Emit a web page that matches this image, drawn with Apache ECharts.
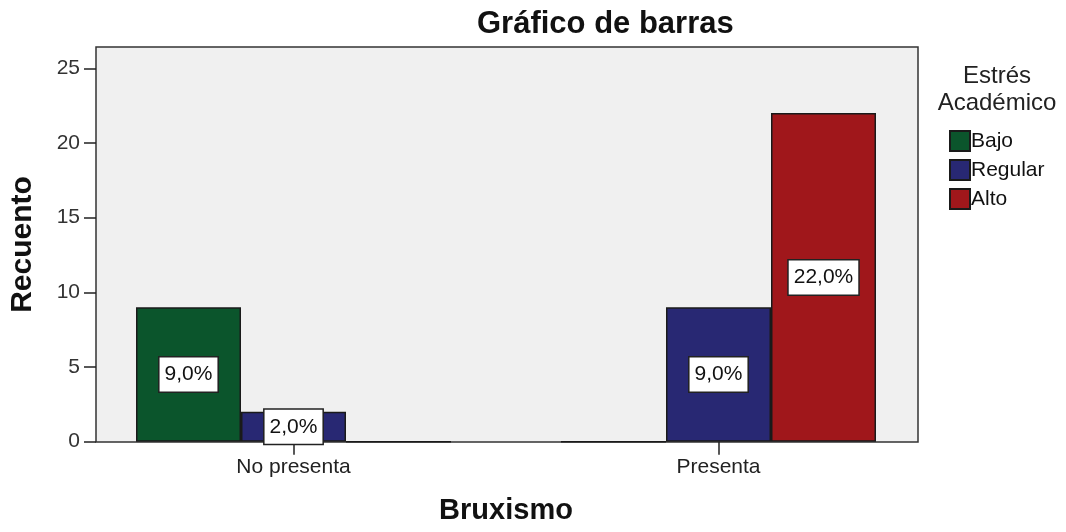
<!DOCTYPE html>
<html>
<head>
<meta charset="utf-8">
<script src="https://cdn.jsdelivr.net/npm/echarts@6/dist/echarts.min.js"></script>
<style>
  html, body { margin: 0; padding: 0; background: #fff; }
  #chart { width: 1066px; height: 532px; }
</style>
</head>
<body>
<div id="chart"></div>
<script>
// datos
var categorias = ['No presenta', 'Presenta'];
var niveles = ['Bajo', 'Regular', 'Alto'];
var bajo = [9, 0];
var regular = [2, 9];
var alto = [0, 22];
var pctBajo = [9.0, 0];
var pctRegular = [2.0, 9.0];
var pctAlto = [0, 22.0];
var yTicks = [0, 5, 10, 15, 20, 25];

var colores = ['#0b552c', '#282873', '#a0171b'];
var fuente = 'Liberation Sans, Arial, sans-serif';

(function () {
    var chart = echarts.init(document.getElementById('chart'));

    function serie(nombre, valores, pct, color) {
        return {
            name: nombre,
            type: 'bar',
            xAxisIndex: 1,
            yAxisIndex: 1,
            barWidth: 105,
            barGap: '0%',
            itemStyle: { color: color, borderColor: '#1a1a1a', borderWidth: 1.5 },
            label: {
                show: true,
                position: 'inside',
                formatter: function (p) {
                    return pct[p.dataIndex].toFixed(1).replace('.', ',') + '%';
                },
                color: '#111',
                fontFamily: fuente,
                fontSize: 21,
                backgroundColor: '#fff',
                borderColor: '#222',
                borderWidth: 1.5,
                padding: [7, 5, 6, 5]
            },
            data: valores.map(function (v) {
                return { value: v, label: { show: v > 0 } };
            })
        };
    }

    var option = {
        backgroundColor: '#fff',
        animation: false,

        title: [
            {
                text: 'Gráfico de barras',
                left: 472,
                top: 4,
                textStyle: { fontSize: 31, fontWeight: 'bold', color: '#111', fontFamily: fuente }
            },
            {
                text: 'Estrés\nAcadémico',
                left: 992,
                top: 58,
                textAlign: 'center',
                textStyle: { fontSize: 24, fontWeight: 'normal', color: '#222', fontFamily: fuente, lineHeight: 27 }
            }
        ],

        legend: {
            orient: 'vertical',
            left: 944,
            top: 125,
            itemWidth: 20,
            itemHeight: 20,
            itemGap: 7,
            icon: 'rect',
            data: niveles,
            textStyle: { fontSize: 21, color: '#111', fontFamily: fuente, padding: [0, 0, 0, -4] }
        },

        grid: [
            // marco del area de trazado
            {
                left: 96, right: 148, top: 47, bottom: 90,
                show: true,
                backgroundColor: '#f0f0f0',
                borderColor: '#333',
                borderWidth: 1.5
            },
            // area de datos
            { left: 81, width: 850, top: 68.3, bottom: 90.3 }
        ],

        xAxis: [
            { gridIndex: 0, type: 'value', show: false },
            {
                gridIndex: 1,
                type: 'category',
                data: categorias,
                name: 'Bruxismo',
                nameLocation: 'middle',
                nameGap: 55,
                nameTextStyle: { fontSize: 29, fontWeight: 'bold', color: '#111', fontFamily: fuente },
                axisLine: { show: false },
                axisTick: { show: true, alignWithLabel: true, length: 13, lineStyle: { color: '#222', width: 1.5 } },
                axisLabel: { fontSize: 21, color: '#222', margin: 15, fontFamily: fuente }
            }
        ],

        yAxis: [
            {
                gridIndex: 0,
                type: 'value',
                show: true,
                name: 'Recuento',
                nameLocation: 'middle',
                nameGap: 58,
                nameTextStyle: { fontSize: 30, fontWeight: 'bold', color: '#111', fontFamily: fuente },
                axisLine: { show: false },
                axisTick: { show: false },
                axisLabel: { show: false },
                splitLine: { show: false }
            },
            {
                gridIndex: 1,
                type: 'value',
                min: yTicks[0],
                max: yTicks[yTicks.length - 1],
                interval: 5,
                offset: -15,
                axisLine: { show: false },
                axisTick: { show: true, length: 12, lineStyle: { color: '#222', width: 1.5 } },
                axisLabel: { fontSize: 21, color: '#333', margin: 16, fontFamily: fuente },
                splitLine: { show: false }
            }
        ],

        series: [
            serie('Bajo', bajo, pctBajo, colores[0]),
            serie('Regular', regular, pctRegular, colores[1]),
            serie('Alto', alto, pctAlto, colores[2])
        ]
    };

    chart.setOption(option);
})();
</script>
</body>
</html>
